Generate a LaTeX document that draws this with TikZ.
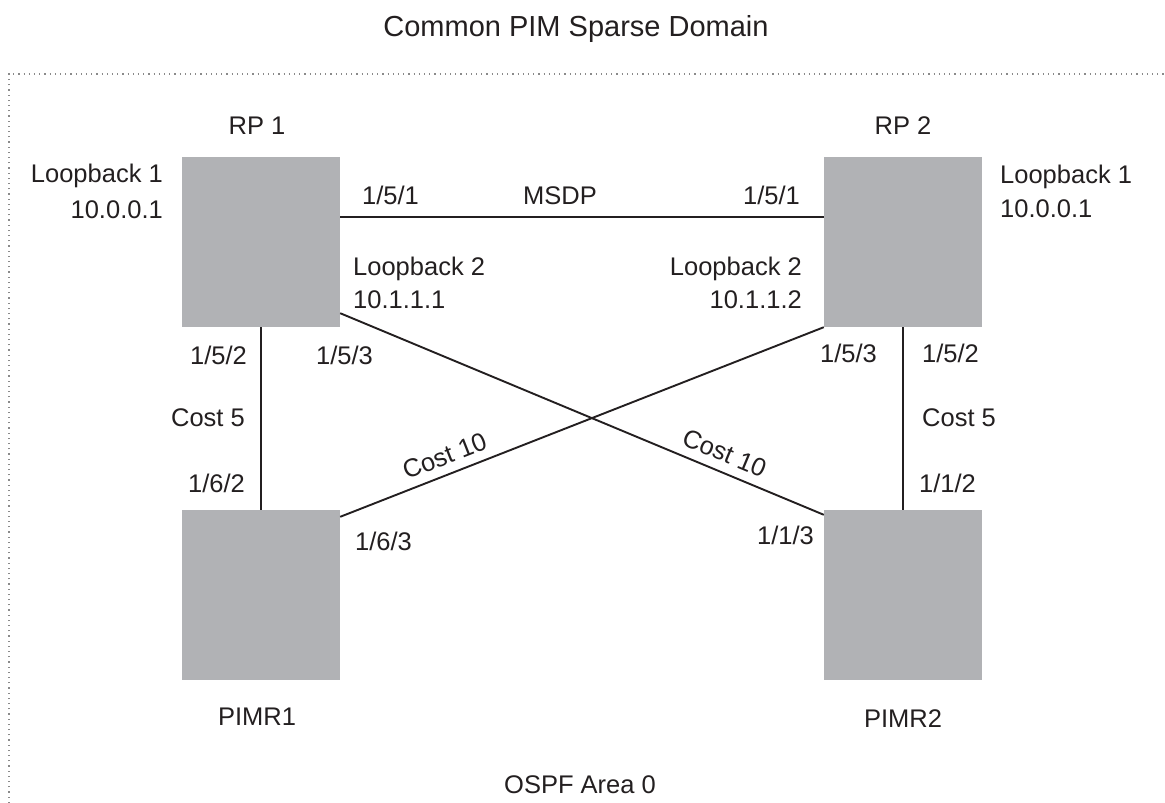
\documentclass[tikz,border=0pt]{standalone}
\usepackage{fontspec}
\setmainfont{Liberation Sans}
\definecolor{ink}{HTML}{231F20}
\definecolor{boxgray}{HTML}{B1B2B5}
\definecolor{dotgray}{HTML}{8A8A8A}
\begin{document}
\begin{tikzpicture}[x=1pt,y=-1pt,
  router/.style={draw=none,fill=boxgray,minimum width=158pt,minimum height=170pt,inner sep=0pt},
  lbl/.style={inner sep=0pt,text=ink,font=\fontsize{25.5}{30}\selectfont,text height=18pt,text depth=0pt},
  big/.style={inner sep=0pt,text=ink,font=\fontsize{29}{34}\selectfont,text height=21pt,text depth=0pt},
  link/.style={draw=ink,line width=1.9pt},
  border/.style={draw=dotgray,line width=1.6pt,dash pattern=on 1.2pt off 4pt}]
\useasboundingbox (0,0) rectangle (1165,803);
% border
\coordinate (bl) at (9,803);
\coordinate (tl) at (9,74);
\coordinate (tr) at (1165,74);
\draw[border] (bl) -- (tl) -- (tr);
% routers
\node[router] (rp1) at (261,242) {};
\node[router] (rp2) at (903,242) {};
\node[router] (pimr1) at (261,595) {};
\node[router] (pimr2) at (903,595) {};
% links
\draw[link] ([yshift=25pt]rp1.east) -- ([yshift=25pt]rp2.west);
\draw[link] (rp1.south) -- (pimr1.north);
\draw[link] (rp2.south) -- (pimr2.north);
\draw[link] ([yshift=14pt]rp1.south east) -- ([yshift=-5pt]pimr2.north west)
  node[lbl,pos=0.78,sloped,anchor=south,yshift=9pt] (c10b) {Cost 10};
\draw[link] ([yshift=-7pt]pimr1.north east) -- (rp2.south west)
  node[lbl,pos=0.23,sloped,anchor=south,yshift=9pt] (c10a) {Cost 10};
% texts
\node[big] (title) at (576,26) {Common PIM Sparse Domain};
\node[lbl] (rp1t) at (257,125) {RP 1};
\node[lbl] (rp2t) at (903,125) {RP 2};
\node[lbl,anchor=east] (lb1a) at (163,173) {Loopback 1};
\node[lbl,anchor=east] (ip1a) at (163,209) {10.0.0.1};
\node[lbl,anchor=west] (lb1b) at (1000,174) {Loopback 1};
\node[lbl,anchor=west] (ip1b) at (1000,208) {10.0.0.1};
\node[lbl,anchor=west] (p151a) at (362,195) {1/5/1};
\node[lbl,anchor=west] (msdp) at (523,195) {MSDP};
\node[lbl,anchor=east] (p151b) at (800,195) {1/5/1};
\node[lbl,anchor=west] (lb2a) at (353,266) {Loopback 2};
\node[lbl,anchor=west] (ip2a) at (353,299) {10.1.1.1};
\node[lbl,anchor=east] (lb2b) at (802,266) {Loopback 2};
\node[lbl,anchor=east] (ip2b) at (802,299) {10.1.1.2};
\node[lbl,anchor=east] (p152a) at (247,355) {1/5/2};
\node[lbl,anchor=west] (p153a) at (316,355) {1/5/3};
\node[lbl,anchor=west] (p153b) at (820,353) {1/5/3};
\node[lbl,anchor=west] (p152b) at (922,353) {1/5/2};
\node[lbl,anchor=east] (c5a) at (245,417) {Cost 5};
\node[lbl,anchor=east] (p162) at (245,483) {1/6/2};
\node[lbl,anchor=west] (c5b) at (922,417) {Cost 5};
\node[lbl,anchor=west] (p112) at (919,483) {1/1/2};
\node[lbl,anchor=west] (p163) at (355,541) {1/6/3};
\node[lbl,anchor=east] (p113) at (814,535) {1/1/3};
\node[lbl] (pimr1t) at (257,716) {PIMR1};
\node[lbl] (pimr2t) at (903,718) {PIMR2};
\node[lbl] (ospf) at (580,784) {OSPF Area 0};
\end{tikzpicture}
\end{document}
